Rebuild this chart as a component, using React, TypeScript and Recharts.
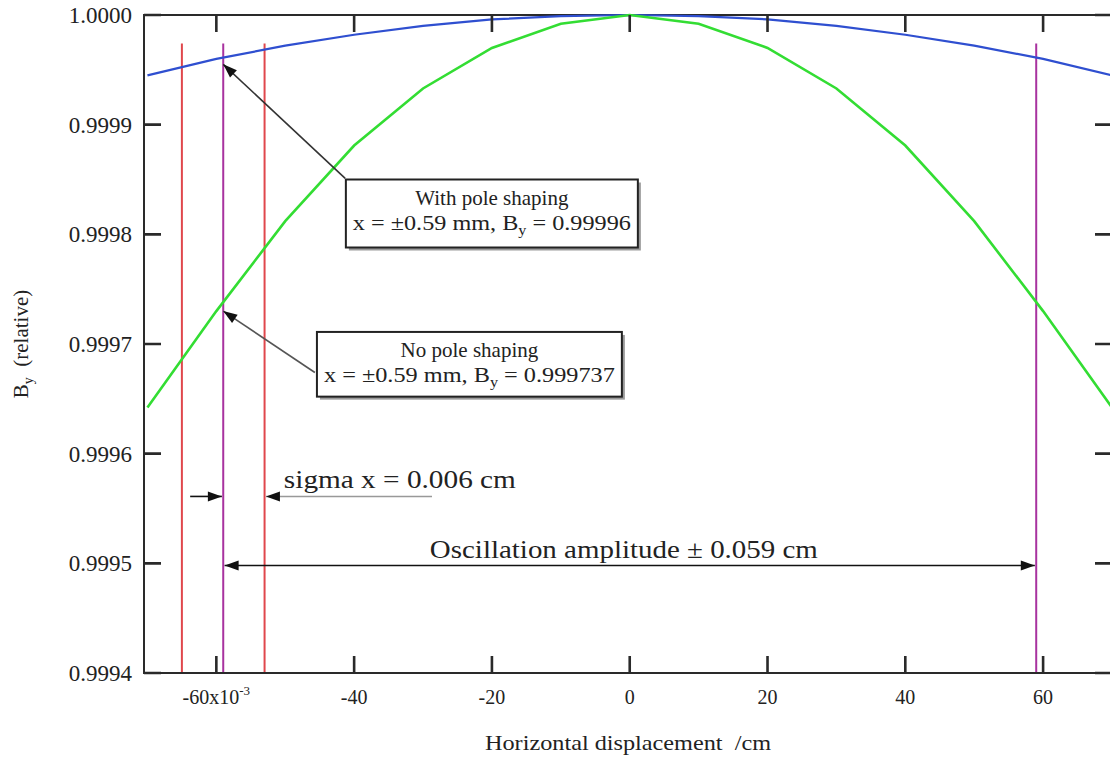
import React from "react";
import {
  ComposedChart,
  Line,
  XAxis,
  YAxis,
  ReferenceLine,
  ReferenceArea,
  ReferenceDot,
} from "recharts";

// horizontal displacement (x10^-3 cm)
const xs = [-70, -60, -50, -40, -30, -20, -10, 0, 10, 20, 30, 40, 50, 60, 70];
// B_y relative, with pole shaping (blue)
const withShaping = [
  0.999945, 0.99996, 0.999972, 0.999982, 0.99999, 0.999996, 0.999999, 1.0,
  0.999999, 0.999996, 0.99999, 0.999982, 0.999972, 0.99996, 0.999945,
];
// B_y relative, no pole shaping (green)
const noShaping = [
  0.999642, 0.99973, 0.999812, 0.999881, 0.999933, 0.99997, 0.999992, 1.0,
  0.999992, 0.99997, 0.999933, 0.999881, 0.999812, 0.99973, 0.999642,
];

const xTicks = [-60, -40, -20, 0, 20, 40, 60];
const yTicks = [0.9994, 0.9995, 0.9996, 0.9997, 0.9998, 0.9999, 1.0];
const xDomain: [number, number] = [-70.5, 70];
const yDomain: [number, number] = [0.9994, 1.0];

// beam position lines
const sigmaLines = [-65, -53];
const amplitudeLines = [-59, 59];
const lineTop = 0.999974;

const data = xs.map((x, i) => ({ x, blue: withShaping[i], green: noShaping[i] }));

const SERIF = "'Liberation Serif', 'DejaVu Serif', serif";
const INK = "#222";
const AXIS = "#2a2a2a";
const TICK = 17;
const serif = { fontFamily: SERIF };

function head(tx: number, ty: number, fx: number, fy: number, fill: string) {
  const dx = tx - fx;
  const dy = ty - fy;
  const len = Math.hypot(dx, dy) || 1;
  const ux = dx / len;
  const uy = dy / len;
  const L = 14;
  const w = 5;
  const bx = tx - ux * L;
  const by = ty - uy * L;
  return (
    <polygon
      points={`${tx},${ty} ${bx - uy * w},${by + ux * w} ${bx + uy * w},${by - ux * w}`}
      fill={fill}
    />
  );
}

function arrow(color: string, both = false) {
  return (p: any) => {
    const { x1, y1, x2, y2 } = p;
    return (
      <g>
        <line x1={x1} y1={y1} x2={x2} y2={y2} stroke={color} strokeWidth={1.6} />
        {head(x2, y2, x1, y1, "#111")}
        {both ? head(x1, y1, x2, y2, "#111") : null}
      </g>
    );
  };
}

// inward tick marks on all four sides, placed through the axis scales
const vTick = (p: any) => {
  const top = Math.min(p.y1, p.y2);
  const bot = Math.max(p.y1, p.y2);
  return (
    <path
      d={`M${p.x1},${top}V${top + TICK}M${p.x1},${bot}V${bot - TICK}`}
      stroke={AXIS}
      strokeWidth={2.6}
      fill="none"
    />
  );
};
const hTick = (p: any) => {
  const l = Math.min(p.x1, p.x2);
  const r = Math.max(p.x1, p.x2);
  return (
    <path
      d={`M${l},${p.y1}H${l + TICK}M${r},${p.y1}H${r - TICK}`}
      stroke={AXIS}
      strokeWidth={2.6}
      fill="none"
    />
  );
};

function box(line1: string, value: string) {
  return (p: any) => {
    const { x, y, width, height } = p;
    const cx = x + width / 2;
    return (
      <g>
        <rect x={x + 3} y={y + 3} width={width} height={height} fill="#9a9a9a" />
        <rect x={x} y={y} width={width} height={height} fill="#fff" stroke={INK} strokeWidth={2} />
        <text x={cx} y={y + 25} textAnchor="middle" style={serif} fontSize={21} fill={INK}>
          {line1}
        </text>
        <text
          x={cx}
          y={y + 50}
          textAnchor="middle"
          style={serif}
          fontSize={21}
          fill={INK}
          textLength={width - 14}
          lengthAdjust="spacingAndGlyphs"
        >
          <tspan>x = ±0.59 mm, B</tspan>
          <tspan dy={5} fontSize={14}>y</tspan>
          <tspan dy={-5}> = {value}</tspan>
        </text>
      </g>
    );
  };
}

function label(text: string, size: number, len: number, anchor: "start" | "middle") {
  return (p: any) => (
    <text
      x={p.cx}
      y={p.cy}
      textAnchor={anchor}
      style={serif}
      fontSize={size}
      fill={INK}
      textLength={len}
      lengthAdjust="spacingAndGlyphs"
    >
      {text}
    </text>
  );
}

const BottomTick = (p: any) => {
  const { x, y, payload } = p;
  return (
    <text x={x} y={y + 31} textAnchor="middle" style={serif} fontSize={20} fill={INK}>
      {payload.value === -60 ? (
        <>
          <tspan>-60x10</tspan>
          <tspan dy={-9} fontSize={13}>-3</tspan>
        </>
      ) : (
        String(payload.value)
      )}
    </text>
  );
};

const LeftTick = (p: any) => {
  const { x, y, payload } = p;
  return (
    <text x={x - 12} y={y + 8} textAnchor="end" style={serif} fontSize={23} fill={INK}>
      {Number(payload.value).toFixed(4)}
    </text>
  );
};

export default function App() {
  return (
    <div
      style={{
        position: "absolute",
        left: 0,
        top: 0,
        width: 1110,
        height: 759,
        overflow: "hidden",
        background: "#fff",
      }}
    >
      <ComposedChart
        width={1114}
        height={759}
        data={data}
        margin={{ top: 15, right: 2, bottom: 46, left: 84 }}
      >
        <XAxis
          dataKey="x"
          type="number"
          domain={xDomain}
          ticks={xTicks}
          interval={0}
          height={40}
          tickSize={0}
          tickMargin={0}
          tickLine={false}
          tick={BottomTick}
          axisLine={{ stroke: AXIS, strokeWidth: 2 }}
          label={{
            content: (p: any) => (
              <text
                x={p.viewBox.x + p.viewBox.width / 2}
                y={750}
                textAnchor="middle"
                style={{ ...serif, whiteSpace: "pre" }}
                fontSize={21}
                fill={INK}
                textLength={286}
                lengthAdjust="spacingAndGlyphs"
              >
                {"Horizontal displacement  /cm"}
              </text>
            ),
          }}
        />
        <YAxis
          type="number"
          domain={yDomain}
          ticks={yTicks}
          interval={0}
          width={60}
          tickSize={0}
          tickMargin={0}
          tickLine={false}
          tick={LeftTick}
          axisLine={{ stroke: AXIS, strokeWidth: 2 }}
          label={{
            content: () => (
              <text
                transform="translate(28,344) rotate(-90)"
                textAnchor="middle"
                style={{ ...serif, whiteSpace: "pre" }}
                fontSize={21}
                fill={INK}
              >
                <tspan>B</tspan>
                <tspan dy={5} fontSize={14}>y</tspan>
                <tspan dy={-5}>{"  (relative)"}</tspan>
              </text>
            ),
          }}
        />

        {/* frame */}
        <ReferenceArea
          x1={xDomain[0]}
          x2={xDomain[1]}
          y1={yDomain[0]}
          y2={yDomain[1]}
          fill="none"
          fillOpacity={0}
          stroke={AXIS}
          strokeWidth={2}
        />

        {sigmaLines.map((v) => (
          <ReferenceLine
            key={`s${v}`}
            segment={[
              { x: v, y: yDomain[0] },
              { x: v, y: lineTop },
            ]}
            stroke="#e0474c"
            strokeWidth={2}
          />
        ))}
        {amplitudeLines.map((v) => (
          <ReferenceLine
            key={`a${v}`}
            segment={[
              { x: v, y: yDomain[0] },
              { x: v, y: lineTop },
            ]}
            stroke="#a8329f"
            strokeWidth={2}
          />
        ))}

        <Line
          dataKey="blue"
          type="linear"
          stroke="#2f4fd0"
          strokeWidth={2.2}
          dot={false}
          isAnimationActive={false}
        />
        <Line
          dataKey="green"
          type="linear"
          stroke="#33dd33"
          strokeWidth={2.6}
          dot={false}
          isAnimationActive={false}
        />

        {xTicks.map((t) => (
          <ReferenceLine key={`xt${t}`} x={t} shape={vTick} />
        ))}
        {yTicks.map((t) => (
          <ReferenceLine key={`yt${t}`} y={t} shape={hTick} />
        ))}

        <ReferenceArea
          x1={-41.2}
          x2={1.18}
          y1={0.999788}
          y2={0.99985}
          shape={box("With pole shaping", "0.99996")}
        />
        <ReferenceArea
          x1={-45.4}
          x2={-1.14}
          y1={0.999652}
          y2={0.999711}
          shape={box("No pole shaping", "0.999737")}
        />

        <ReferenceLine
          segment={[
            { x: -41.3, y: 0.999851 },
            { x: -59, y: 0.999955 },
          ]}
          shape={arrow("#333")}
        />
        <ReferenceLine
          segment={[
            { x: -45.7, y: 0.999674 },
            { x: -59, y: 0.99973 },
          ]}
          shape={arrow("#555")}
        />
        <ReferenceLine
          segment={[
            { x: -63.8, y: 0.999561 },
            { x: -59.2, y: 0.999561 },
          ]}
          shape={arrow("#111")}
        />
        <ReferenceLine
          segment={[
            { x: -28.7, y: 0.999561 },
            { x: -52.8, y: 0.999561 },
          ]}
          shape={arrow("#999")}
        />
        <ReferenceLine
          segment={[
            { x: -58.8, y: 0.999498 },
            { x: 58.8, y: 0.999498 },
          ]}
          shape={arrow("#111", true)}
        />

        <ReferenceDot
          x={-50.2}
          y={0.999569}
          r={0}
          shape={label("sigma x = 0.006 cm", 25, 232, "start")}
        />
        <ReferenceDot
          x={-0.85}
          y={0.999505}
          r={0}
          shape={label("Oscillation amplitude ± 0.059 cm", 25, 388, "middle")}
        />
      </ComposedChart>
    </div>
  );
}
